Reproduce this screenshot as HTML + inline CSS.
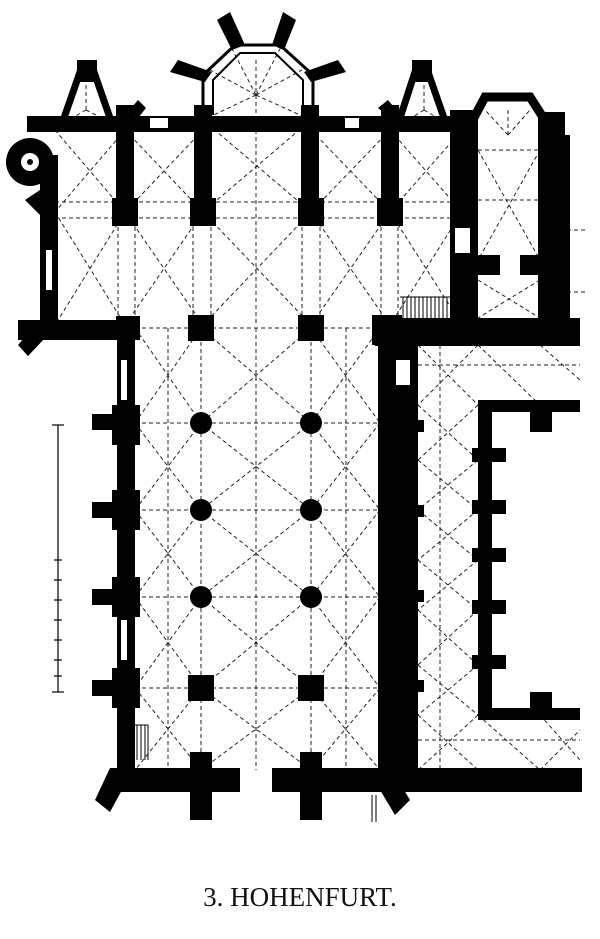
<!DOCTYPE html>
<html><head><meta charset="utf-8"><style>
html,body{margin:0;padding:0;background:#fff;}
svg{display:block}
</style></head><body>
<svg width="600" height="939" viewBox="0 0 600 939" xmlns="http://www.w3.org/2000/svg">
<rect width="600" height="939" fill="#fff"/>
<g stroke="#222" stroke-width="1" stroke-dasharray="4,3" fill="none">
 <line x1="135" y1="328" x2="380" y2="328"/><line x1="135" y1="423" x2="380" y2="423"/>
 <line x1="135" y1="510" x2="380" y2="510"/><line x1="135" y1="597" x2="380" y2="597"/>
 <line x1="135" y1="688" x2="380" y2="688"/>
 <line x1="201" y1="328" x2="201" y2="770"/><line x1="311" y1="328" x2="311" y2="770"/>
 <line x1="168" y1="328" x2="168" y2="770"/><line x1="256" y1="328" x2="256" y2="770"/><line x1="346" y1="328" x2="346" y2="770"/>
 <path d="M135 328L201 423M201 328L135 423M135 423L201 510M201 423L135 510M135 510L201 597M201 510L135 597M135 597L201 688M201 597L135 688M135 688L201 770M201 688L135 770"/>
 <path d="M311 328L380 423M380 328L311 423M311 423L380 510M380 423L311 510M311 510L380 597M380 510L311 597M311 597L380 688M380 597L311 688M311 688L380 770M380 688L311 770"/>
 <path d="M201 328L311 423M311 328L201 423M201 423L311 510M311 423L201 510M201 510L311 597M311 510L201 597M201 597L311 688M311 597L201 688M201 688L311 770M311 688L201 770"/>
 <line x1="55" y1="202" x2="470" y2="202"/><line x1="55" y1="218" x2="470" y2="218"/>
 <line x1="118" y1="220" x2="118" y2="325"/><line x1="135" y1="220" x2="135" y2="325"/><line x1="193" y1="220" x2="193" y2="325"/><line x1="211" y1="220" x2="211" y2="325"/><line x1="302" y1="220" x2="302" y2="325"/><line x1="320" y1="220" x2="320" y2="325"/><line x1="381" y1="220" x2="381" y2="325"/><line x1="398" y1="220" x2="398" y2="325"/>
 <line x1="256" y1="60" x2="256" y2="325"/>
 <path d="M55 130L125 212M125 130L55 212M55 212L125 325M125 212L55 325M125 130L203 212M203 130L125 212M125 212L203 325M203 212L125 325M203 120L311 212M311 120L203 212M203 212L311 325M311 212L203 325M311 130L390 212M390 130L311 212M311 212L390 325M390 212L311 325M390 130L462 212M462 130L390 212M390 212L462 325M462 212L390 325"/>
 <path d="M256 95L203 120M256 95L311 120M256 95L230 45M256 95L282 45M256 95L210 70M256 95L302 70M86 110L60 125M86 110L115 125M86 110L86 75M424 110L400 125M424 110L450 125M424 110L424 75"/>
 <path d="M478 150L540 150M478 200L540 200M478 150L540 260M540 150L478 260M508 135L485 110M508 135L530 110M508 135L508 110M478 280L540 318M540 280L478 318"/>
 <line x1="418" y1="365" x2="580" y2="365"/><line x1="418" y1="740" x2="580" y2="740"/>
 <line x1="440" y1="345" x2="440" y2="770"/>
 <line x1="560" y1="230" x2="585" y2="230"/><line x1="560" y1="292" x2="585" y2="292"/>
 <path d="M418 345L478 405M478 345L418 405M478 345L540 405M540 345L580 380M418 405L478 460M478 405L418 460M418 460L478 510M478 460L418 510M418 510L478 560M478 510L418 560M418 560L478 610M478 560L418 610M418 610L478 665M478 610L418 665M418 665L478 715M478 665L418 715M418 715L478 770M478 715L418 770M478 715L540 770M540 715L580 760M540 770L580 730"/>
</g>
<g fill="#000">
 <rect x="117" y="320" width="18" height="465"/>
 <rect x="92" y="414" width="48" height="16"/><rect x="92" y="502" width="48" height="16"/>
 <rect x="92" y="589" width="48" height="16"/><rect x="92" y="680" width="48" height="16"/>
 <rect x="112" y="405" width="28" height="40"/><rect x="112" y="490" width="28" height="40"/><rect x="112" y="577" width="28" height="40"/><rect x="112" y="668" width="28" height="40"/>
 <rect x="110" y="768" width="130" height="24"/><rect x="272" y="768" width="310" height="24"/>
 <polygon points="95,800 110,768 130,775 110,812"/><polygon points="380,790 395,775 410,800 395,815"/>
 <rect x="190" y="752" width="22" height="68"/><rect x="300" y="752" width="22" height="68"/>
 <rect x="378" y="318" width="40" height="470"/>
 <rect x="375" y="318" width="205" height="28"/>
 <rect x="188" y="315" width="26" height="26"/><rect x="298" y="315" width="26" height="26"/>
 <circle cx="201" cy="423" r="11"/><circle cx="311" cy="423" r="11"/>
 <circle cx="201" cy="510" r="11"/><circle cx="311" cy="510" r="11"/>
 <circle cx="201" cy="597" r="11"/><circle cx="311" cy="597" r="11"/>
 <rect x="188" y="675" width="26" height="26"/><rect x="298" y="675" width="26" height="26"/>
 <rect x="116" y="316" width="24" height="24"/>
 <rect x="27" y="116" width="443" height="16"/>
 <rect x="40" y="155" width="18" height="175"/>
 <polygon points="25,200 40,190 58,200 58,215 40,215"/>
 <rect x="18" y="320" width="120" height="20"/>
 <polygon points="18,345 35,325 45,338 28,356"/>
 <circle cx="30" cy="162" r="24"/>
 <rect x="116" y="105" width="18" height="110"/><rect x="194" y="105" width="18" height="110"/>
 <rect x="301" y="105" width="18" height="110"/><rect x="381" y="105" width="18" height="110"/>
 <rect x="112" y="198" width="26" height="28"/><rect x="190" y="198" width="26" height="28"/><rect x="298" y="198" width="26" height="28"/><rect x="377" y="198" width="26" height="28"/>
 <polygon points="170,72 178,60 212,72 205,82"/><polygon points="217,20 230,12 245,45 232,50"/><polygon points="283,12 296,20 284,50 272,45"/><polygon points="346,72 338,60 304,72 311,82"/>
 <rect x="77" y="60" width="20" height="22"/><rect x="412" y="60" width="20" height="22"/>
 <polygon points="128,112 138,100 146,108 138,118"/><polygon points="378,108 388,100 398,112 390,118"/>
 <rect x="450" y="110" width="28" height="210"/>
 <polygon points="538,112 565,112 565,135 570,135 570,320 538,320"/>
 <polygon points="478,255 500,255 500,275 478,275"/><polygon points="520,255 545,255 545,275 520,275"/>
 <rect x="530" y="318" width="30" height="28"/>
 <rect x="478" y="400" width="14" height="318"/>
 <rect x="478" y="400" width="102" height="12"/><rect x="478" y="708" width="102" height="12"/>
 <rect x="472" y="448" width="34" height="14"/><rect x="472" y="500" width="34" height="14"/>
 <rect x="472" y="548" width="34" height="14"/><rect x="472" y="600" width="34" height="14"/>
 <rect x="472" y="655" width="34" height="14"/>
 <rect x="530" y="402" width="22" height="30"/><rect x="530" y="692" width="22" height="26"/>
 <rect x="410" y="420" width="14" height="12"/><rect x="410" y="505" width="14" height="12"/><rect x="410" y="590" width="14" height="12"/><rect x="410" y="680" width="14" height="12"/>
 <rect x="372" y="315" width="30" height="30"/>
</g>
<g fill="none" stroke="#000">
 <polyline stroke-width="3" points="203,115 203,75 235,45 280,45 313,75 313,115"/>
 <polyline stroke-width="2" points="213,115 213,80 240,53 275,53 303,80 303,115"/>
 <polyline stroke-width="7" points="64,118 80,72 94,72 110,118"/>
 <polyline stroke-width="7" points="400,118 415,72 428,72 444,118"/>
 <polyline stroke-width="9" points="470,125 485,97 530,97 548,125"/>
</g>
<circle cx="30" cy="162" r="9" fill="#fff"/><circle cx="30" cy="162" r="3" fill="#000"/>
<g fill="#fff"><rect x="46" y="250" width="6" height="40"/><rect x="121" y="360" width="6" height="40"/><rect x="121" y="620" width="6" height="40"/><rect x="396" y="360" width="14" height="25"/><rect x="455" y="228" width="15" height="25"/>
<rect x="150" y="118" width="18" height="10"/><rect x="345" y="118" width="14" height="10"/></g>
<g stroke="#000" stroke-width="1" fill="none"><line x1="400" y1="297" x2="450" y2="297"/>
<path d="M403 297V318M407 297V318M411 297V318M415 297V318M419 297V318M423 297V318M427 297V318M431 297V318M435 297V318M439 297V318M443 297V318M447 297V318"/>
<path d="M130 725H148V760M133 725V760M137 725V760M141 725V760M145 725V760"/>
<path d="M372 795V822M376 795V822"/></g>
<g stroke="#000" stroke-width="1.2">
 <line x1="58" y1="425" x2="58" y2="692"/>
 <line x1="52" y1="425" x2="64" y2="425"/><line x1="52" y1="692" x2="64" y2="692"/>
 <line x1="54" y1="560" x2="62" y2="560"/><line x1="54" y1="580" x2="62" y2="580"/><line x1="54" y1="600" x2="62" y2="600"/><line x1="54" y1="620" x2="62" y2="620"/><line x1="54" y1="640" x2="62" y2="640"/><line x1="54" y1="660" x2="62" y2="660"/><line x1="54" y1="676" x2="62" y2="676"/>
</g>
<text x="300" y="906" text-anchor="middle" font-family="'Liberation Serif',serif" font-size="27" fill="#111">3.  HOHENFURT.</text>
</svg>
</body></html>
